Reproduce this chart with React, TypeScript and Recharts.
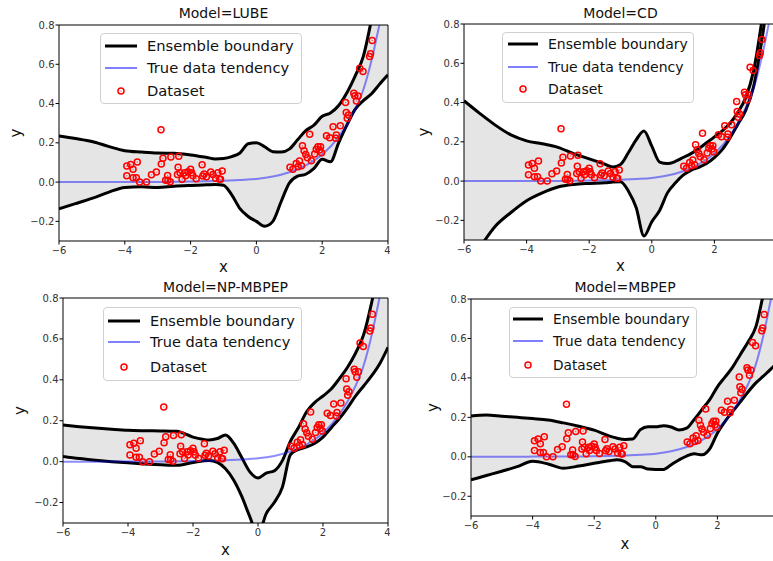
import React from "react";
import { ComposedChart, Area, Line, Scatter, XAxis, YAxis, ReferenceLine, Label } from "recharts";

// common x grid used to read the ensemble boundaries off each panel
const GRID_X = [-6, -5.5, -5, -4.5, -4, -3.5, -3, -2.5, -2, -1.5, -1.25, -1, -0.75, -0.5, -0.25, 0, 0.25, 0.5, 0.75, 1, 1.25, 1.5, 1.75, 2, 2.25, 2.5, 2.75, 3, 3.25, 3.5, 3.75, 4];

const LUBE_UPPER = [0.235, 0.222, 0.207, 0.182, 0.16, 0.153, 0.148, 0.147, 0.138, 0.125, 0.118, 0.12, 0.13, 0.148, 0.195, 0.2, 0.18, 0.155, 0.153, 0.168, 0.215, 0.262, 0.29, 0.335, 0.352, 0.39, 0.455, 0.54, 0.64, 0.83, 1.05, 1.3];
const LUBE_LOWER = [-0.136, -0.11, -0.083, -0.052, -0.027, -0.024, -0.028, -0.021, -0.017, -0.014, -0.012, -0.016, -0.065, -0.135, -0.175, -0.2, -0.225, -0.2, -0.1, -0.005, 0.03, 0.04, 0.07, 0.116, 0.103, 0.2, 0.29, 0.37, 0.415, 0.45, 0.5, 0.546];

const CD_UPPER = [0.409, 0.345, 0.285, 0.235, 0.205, 0.19, 0.172, 0.14, 0.113, 0.086, 0.072, 0.085, 0.144, 0.21, 0.255, 0.178, 0.097, 0.089, 0.1, 0.12, 0.14, 0.165, 0.195, 0.225, 0.256, 0.295, 0.35, 0.425, 0.56, 0.8, 1.1, 1.4];
const CD_LOWER = [-0.46, -0.34, -0.23, -0.16, -0.1, -0.06, -0.03, -0.017, -0.012, -0.009, -0.005, -0.003, -0.05, -0.135, -0.28, -0.207, -0.15, -0.06, -0.01, 0.03, 0.055, 0.07, 0.09, 0.12, 0.16, 0.22, 0.29, 0.36, 0.48, 0.7, 0.98, 1.25];

const NP_UPPER = [0.179, 0.171, 0.164, 0.158, 0.153, 0.151, 0.15, 0.148, 0.12, 0.106, 0.113, 0.13, 0.09, 0.02, -0.05, -0.08, -0.056, -0.045, 0.005, 0.1, 0.168, 0.245, 0.29, 0.321, 0.355, 0.405, 0.46, 0.53, 0.62, 0.78, 0.98, 1.2];
const NP_LOWER = [0.025, 0.015, 0.007, 0.0, -0.006, -0.011, -0.015, -0.018, -0.004, 0.006, -0.004, -0.035, -0.09, -0.17, -0.27, -0.36, -0.255, -0.2, -0.125, 0.035, 0.06, 0.072, 0.09, 0.12, 0.165, 0.21, 0.262, 0.32, 0.37, 0.42, 0.48, 0.559];

const MBPEP_UPPER = [0.207, 0.212, 0.206, 0.2, 0.194, 0.187, 0.172, 0.155, 0.135, 0.105, 0.094, 0.088, 0.09, 0.138, 0.153, 0.152, 0.158, 0.151, 0.136, 0.145, 0.19, 0.24, 0.29, 0.355, 0.405, 0.456, 0.52, 0.583, 0.66, 0.83, 1.0, 1.2];
const MBPEP_LOWER = [-0.117, -0.095, -0.073, -0.05, -0.023, -0.036, -0.058, -0.047, -0.033, -0.02, -0.015, -0.024, -0.05, -0.05, -0.062, -0.064, -0.064, -0.04, -0.016, 0.004, 0.015, 0.01, 0.04, 0.12, 0.18, 0.23, 0.28, 0.33, 0.375, 0.41, 0.447, 0.49];

const TREND_X = [-6, -5, -4, -3, -2, -1, -0.5, 0, 0.5, 1, 1.5, 2, 2.5, 3, 3.25, 3.5, 3.75, 4];
const TREND_Y = [0.0, 0.0, 0.001, 0.001, 0.003, 0.007, 0.011, 0.016, 0.028, 0.05, 0.085, 0.14, 0.23, 0.37, 0.47, 0.62, 0.81, 1.0];

const POINT_X = [-3.94, -3.94, -3.82, -3.75, -3.62, -3.75, -3.65, -3.55, -3.34, -3.19, -3.04, -2.9, -2.89, -2.84, -2.76, -2.7, -2.69, -2.62, -2.6, -2.36, -2.4, -2.38, -2.32, -2.26, -2.18, -2.15, -2.08, -2.0, -1.97, -1.93, -1.83, -1.65, -1.63, -1.59, -1.52, -1.39, -1.32, -1.24, -1.17, -1.12, -1.04, -1.09,
  1.02, 1.11, 1.21, 1.27, 1.31, 1.37, 1.4, 1.45, 1.5, 1.55, 1.62, 1.67, 1.77, 1.82, 1.87, 1.92, 1.95, 1.98, 2.13, 2.23, 2.33, 2.43, 2.41, 2.55, 2.71, 2.73, 2.76, 2.8, 2.96, 2.99, 3.04, 3.09, 3.14, 3.24, 3.44, 3.47, 3.52];
const POINT_Y = [0.082, 0.032, 0.09, 0.066, 0.102, 0.022, 0.022, 0.0, 0.0, 0.037, 0.051, 0.267, 0.092, 0.122, 0.01, 0.034, 0.01, 0.002, 0.128, 0.131, 0.039, 0.075, 0.048, 0.015, 0.048, 0.032, 0.053, 0.065, 0.048, 0.032, 0.017, 0.088, 0.031, 0.041, 0.027, 0.051, 0.039, 0.019, 0.048, 0.015, 0.056, 0.014,
  0.075, 0.066, 0.095, 0.078, 0.107, 0.083, 0.185, 0.16, 0.141, 0.124, 0.243, 0.109, 0.143, 0.167, 0.18, 0.163, 0.18, 0.15, 0.236, 0.226, 0.282, 0.24, 0.223, 0.287, 0.405, 0.355, 0.325, 0.342, 0.452, 0.44, 0.413, 0.439, 0.58, 0.563, 0.639, 0.653, 0.721];

const X_TICKS = [-6, -4, -2, 0, 2, 4];
// right-hand panels are cut by the figure edge before x=4
const X_TICKS_CUT = [-6, -4, -2, 0, 2];
const Y_TICKS = [-0.2, 0, 0.2, 0.4, 0.6, 0.8];
const LEGEND_LABELS = ["Ensemble boundary", "True data tendency", "Dataset"];

const FONT = "'DejaVu Sans', sans-serif";
const trendRows = TREND_X.map((x, i) => ({ x, y: TREND_Y[i] }));
const pointRows = POINT_X.map((x, i) => ({ x, y: POINT_Y[i] }));

const minus = (s: string) => s.replace("-", "\u2212");

const Ring = (props: any) => {
  const { cx, cy } = props;
  if (cx == null || cy == null) return null;
  return (
    <g>
      <circle cx={cx} cy={cy} r={3} fill="none" stroke="#ff0000" strokeWidth={1.5} />
      <circle cx={cx} cy={cy} r={0.7} fill="#ff0000" fillOpacity={0.6} />
    </g>
  );
};

function Legend({ box }: { box: any }) {
  const { left, top, width, height, fontSize, rows, x1, x2, textX } = box;
  return (
    <div style={{ position: "absolute", left, top, width, height, border: "1px solid #d0d0d0", borderRadius: 4, background: "rgba(255,255,255,0.8)", boxSizing: "border-box", fontFamily: FONT, fontSize }}>
      <svg width={width} height={height} style={{ position: "absolute", left: -1, top: -1 }}>
        <line x1={x1} x2={x2} y1={rows[0]} y2={rows[0]} stroke="#000" strokeWidth={3} />
        <line x1={x1} x2={x2} y1={rows[1]} y2={rows[1]} stroke="#8080ff" strokeWidth={2} />
        <Ring cx={(x1 + x2) / 2} cy={rows[2]} />
        {LEGEND_LABELS.map((t, i) => (
          <text key={t} x={textX} y={rows[i]} dy="0.35em" fontSize={fontSize} fill="#111">{t}</text>
        ))}
      </svg>
    </div>
  );
}

function Panel({ p }: { p: any }) {
  const rows = GRID_X.map((x, i) => ({ x, upper: p.upper[i], lower: p.lower[i], band: [p.lower[i], p.upper[i]] }));
  const yw = 64;
  const mt = 5;
  const w = p.plotW + yw + 2;
  const h = p.plotH + mt + p.xh;
  const tickStyle = { fontSize: 10, fill: "#333", fontFamily: FONT };
  return (
    <>
      <div style={{ position: "absolute", left: p.plotL + p.plotW / 2, top: p.titleY, transform: "translateX(-50%)", fontFamily: FONT, fontSize: 14, lineHeight: "16px", whiteSpace: "nowrap", color: "#111" }}>
        {p.title}
      </div>
      <div style={{ position: "absolute", left: p.plotL - yw, top: p.plotT - mt }}>
        <ComposedChart width={w} height={h} data={rows} margin={{ top: mt, right: 2, bottom: 0, left: 0 }}>
          <XAxis dataKey="x" type="number" domain={[-6, 4]} ticks={p.xTicks} allowDataOverflow height={p.xh}
            tick={tickStyle} tickFormatter={(v: number) => minus(String(v))} tickSize={3.5} tickMargin={2}
            axisLine={{ stroke: "#000" }} tickLine={{ stroke: "#000" }}>
            <Label value="x" position="insideBottom" offset={p.xOff} style={{ fontSize: p.xFont, fill: "#111", fontFamily: FONT }} />
          </XAxis>
          <YAxis type="number" domain={[-0.3, 0.8]} ticks={Y_TICKS} allowDataOverflow width={yw}
            tick={tickStyle} tickFormatter={(v: number) => minus(v.toFixed(1))} tickSize={3.5} tickMargin={1}
            axisLine={{ stroke: "#000" }} tickLine={{ stroke: "#000" }}>
            <Label value="y" angle={-90} position="insideLeft" offset={p.yOff} style={{ fontSize: 15, fill: "#111", fontFamily: FONT, textAnchor: "middle" }} />
          </YAxis>
          <Area dataKey="band" type="monotone" stroke="none" fill="#000" fillOpacity={0.1} isAnimationActive={false} />
          <Line dataKey="upper" type="monotone" stroke="#000" strokeWidth={3} dot={false} isAnimationActive={false} />
          <Line dataKey="lower" type="monotone" stroke="#000" strokeWidth={3} dot={false} isAnimationActive={false} />
          <Line data={trendRows} dataKey="y" type="monotone" stroke="#0000ff" strokeOpacity={0.45} strokeWidth={2} dot={false} isAnimationActive={false} />
          <Scatter data={pointRows} dataKey="y" shape={Ring} isAnimationActive={false} />
          <ReferenceLine y={0.8} stroke="#000" />
          <ReferenceLine x={4} stroke="#000" />
        </ComposedChart>
      </div>
      <Legend box={p.legend} />
    </>
  );
}

const PANELS = [
  { title: "Model=LUBE", upper: LUBE_UPPER, lower: LUBE_LOWER, xTicks: X_TICKS, plotL: 59, plotT: 25, plotW: 329, plotH: 216, titleY: 5, xh: 44, xOff: 13, yOff: 21, xFont: 15,
    legend: { left: 100, top: 33, width: 202, height: 71, fontSize: 14.7, rows: [13, 35, 58], x1: 5, x2: 37, textX: 47 } },
  { title: "Model=CD", upper: CD_UPPER, lower: CD_LOWER, xTicks: X_TICKS_CUT, plotL: 464, plotT: 24, plotW: 313, plotH: 216, titleY: 5, xh: 44, xOff: 13, yOff: 24, xFont: 15,
    legend: { left: 502, top: 32, width: 192, height: 71, fontSize: 14, rows: [12, 35, 57], x1: 6, x2: 36, textX: 46 } },
  { title: "Model=NP-MBPEP", upper: NP_UPPER, lower: NP_LOWER, xTicks: X_TICKS, plotL: 63, plotT: 298, plotW: 325, plotH: 225, titleY: 279, xh: 37, xOff: 5, yOff: 21, xFont: 15,
    legend: { left: 103, top: 307, width: 199, height: 74, fontSize: 14.5, rows: [14, 35, 60], x1: 5, x2: 37, textX: 47 } },
  { title: "Model=MBPEP", upper: MBPEP_UPPER, lower: MBPEP_LOWER, xTicks: X_TICKS_CUT, plotL: 471, plotT: 299, plotW: 308, plotH: 217, titleY: 279, xh: 40, xOff: 7, yOff: 26, xFont: 15,
    legend: { left: 509, top: 307, width: 188, height: 71, fontSize: 13.7, rows: [12, 34, 58], x1: 4, x2: 34, textX: 44 } },
];

export default function App() {
  return (
    <div style={{ position: "fixed", left: 0, top: 0, width: 773, height: 561, overflow: "hidden", background: "#fff" }}>
      {PANELS.map((p) => (
        <Panel key={p.title} p={p} />
      ))}
    </div>
  );
}
